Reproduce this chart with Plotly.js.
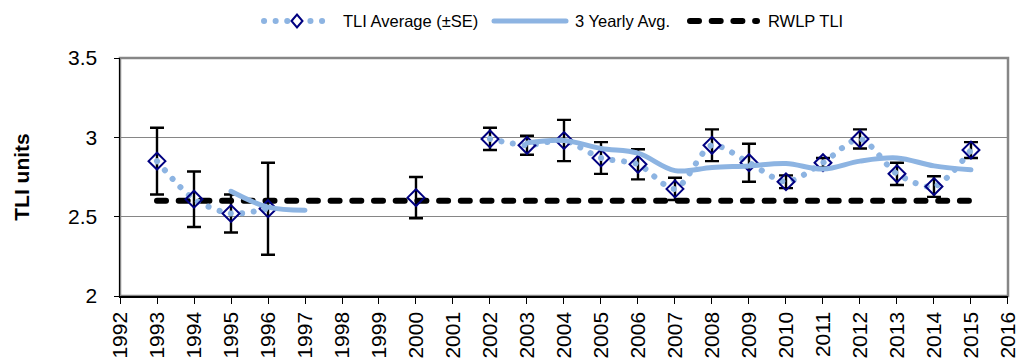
<!DOCTYPE html>
<html>
<head>
<meta charset="utf-8">
<script src="https://cdn.plot.ly/plotly-3.0.1.min.js"></script>
<style>
html, body { margin: 0; padding: 0; background: #fff; }
#chart { width: 1018px; height: 359px; }
.scatterlayer .js-line, .shapelayer path { stroke-linecap: round; }
</style>
</head>
<body>
<div id="chart"></div>
<script>
// ---- Data ----
const years = [1993, 1994, 1995, 1996, 1997, 1998, 1999, 2000, 2001, 2002, 2003, 2004,
               2005, 2006, 2007, 2008, 2009, 2010, 2011, 2012, 2013, 2014, 2015];
const tliAverage = [2.85, 2.61, 2.52, 2.55, null, null, null, 2.62, null, 2.99, 2.95, 2.98,
                    2.87, 2.83, 2.675, 2.95, 2.84, 2.72, 2.84, 2.99, 2.77, 2.69, 2.92];
const tliSE = [0.21, 0.175, 0.12, 0.29, null, null, null, 0.13, null, 0.07, 0.06, 0.13,
               0.10, 0.095, 0.07, 0.10, 0.12, 0.04, 0.03, 0.06, 0.07, 0.065, 0.05];
const threeYearAvg = [null, null, 2.66, 2.56, 2.54, null, null, null, null, null, 2.965, 2.98,
                      2.93, 2.90, 2.79, 2.81, 2.82, 2.835, 2.80, 2.85, 2.87, 2.82, 2.795];
const rwlpYears = [1993, 2015];
const rwlpTLI = [2.6, 2.6];
const xTickYears = [1992, 1993, 1994, 1995, 1996, 1997, 1998, 1999, 2000, 2001, 2002, 2003,
                    2004, 2005, 2006, 2007, 2008, 2009, 2010, 2011, 2012, 2013, 2014, 2015, 2016];
const yTicks = [2, 2.5, 3, 3.5];
const seriesNames = ['TLI Average (±SE)', '3 Yearly Avg.', 'RWLP TLI'];

const FONT = 'Liberation Sans, Arial, sans-serif';
const lightBlue = '#8DB4E2';
const navy = '#000080';
const DOT_DASH = '0.1px,11.5px';
const BLACK_DASH = '9px,12.7px';

const traces = [
  {
    x: rwlpYears, y: rwlpTLI, name: seriesNames[2], mode: 'lines',
    line: { color: '#000000', width: 6, dash: BLACK_DASH },
    hoverinfo: 'skip'
  },
  {
    x: years, y: tliAverage, name: seriesNames[0], mode: 'lines+markers',
    connectgaps: false,
    line: { color: lightBlue, width: 6, dash: DOT_DASH, shape: 'spline', smoothing: 0.8 },
    marker: { symbol: 'diamond-open', size: 13, color: navy, line: { width: 2, color: navy } },
    error_y: { type: 'data', array: tliSE, visible: true, color: '#000000', thickness: 2.4, width: 7 }
  },
  {
    x: years, y: threeYearAvg, name: seriesNames[1], mode: 'lines',
    connectgaps: false,
    line: { color: lightBlue, width: 5, shape: 'spline', smoothing: 1 }
  }
];

// ---- Custom legend (pixel layout converted to paper coordinates) ----
const M = { l: 120, r: 10, t: 58, b: 63 };
const PW = 1018 - M.l - M.r, PH = 359 - M.t - M.b;
const px = v => (v - M.l) / PW;
const py = v => (359 - M.b - v) / PH;
const LY = 21;
const dX = 5.5 / PW, dY = 6.5 / PH;
const dc = { x: px(297), y: py(LY) };
const legendShapes = [
  { type: 'line', xref: 'paper', yref: 'paper', x0: px(264), x1: px(332), y0: py(LY), y1: py(LY),
    line: { color: lightBlue, width: 6, dash: DOT_DASH } },
  { type: 'path', xref: 'paper', yref: 'paper',
    path: `M ${dc.x - dX} ${dc.y} L ${dc.x} ${dc.y + dY} L ${dc.x + dX} ${dc.y} L ${dc.x} ${dc.y - dY} Z`,
    fillcolor: '#ffffff', line: { color: navy, width: 2 } },
  { type: 'line', xref: 'paper', yref: 'paper', x0: px(494), x1: px(566), y0: py(LY), y1: py(LY),
    line: { color: lightBlue, width: 5 } },
  { type: 'line', xref: 'paper', yref: 'paper', x0: px(690), x1: px(757), y0: py(LY), y1: py(LY),
    line: { color: '#000000', width: 6, dash: BLACK_DASH } }
];
const legendText = [[342, 0], [574, 1], [767, 2]].map(([xx, i]) => ({
  text: seriesNames[i], xref: 'paper', yref: 'paper', x: px(xx), y: py(LY),
  xanchor: 'left', yanchor: 'middle', showarrow: false, borderpad: 0,
  font: { family: FONT, size: 16.5, color: '#000' }
}));

const layout = {
  width: 1018, height: 359,
  margin: M,
  paper_bgcolor: '#ffffff', plot_bgcolor: '#ffffff',
  font: { family: FONT, color: '#000000', size: 16 },
  showlegend: false,
  xaxis: {
    range: [1992, 2016.0005], tickmode: 'array', tickvals: xTickYears,
    ticktext: xTickYears.map(String), tickangle: -90,
    tickfont: { family: FONT, size: 21 },
    ticklabeloverflow: 'allow',
    showgrid: false, zeroline: false,
    showline: true, linecolor: '#000000', linewidth: 1.5,
    ticks: 'outside', ticklen: 6, tickcolor: '#000', tickwidth: 1,
    automargin: false
  },
  yaxis: {
    range: [2, 3.5], tickmode: 'array', tickvals: yTicks, ticktext: yTicks.map(String),
    tickfont: { family: FONT, size: 21 },
    showgrid: true, gridcolor: '#868686', gridwidth: 1, zeroline: false,
    showline: true, linecolor: '#000000', linewidth: 1.5,
    ticks: 'outside', ticklen: 5, tickcolor: '#000', tickwidth: 1,
    ticklabelstandoff: 12,
    title: { text: '<b>TLI units</b>', font: { family: FONT, size: 21 }, standoff: 32 },
    automargin: false
  },
  shapes: [
    { type: 'rect', xref: 'paper', yref: 'paper', x0: 0, x1: 1, y0: 0, y1: 1,
      line: { color: '#868686', width: 2.5 }, layer: 'below' }
  ].concat(legendShapes),
  annotations: legendText
};

Plotly.newPlot('chart', traces, layout, { displayModeBar: false, staticPlot: true });
</script>
</body>
</html>
